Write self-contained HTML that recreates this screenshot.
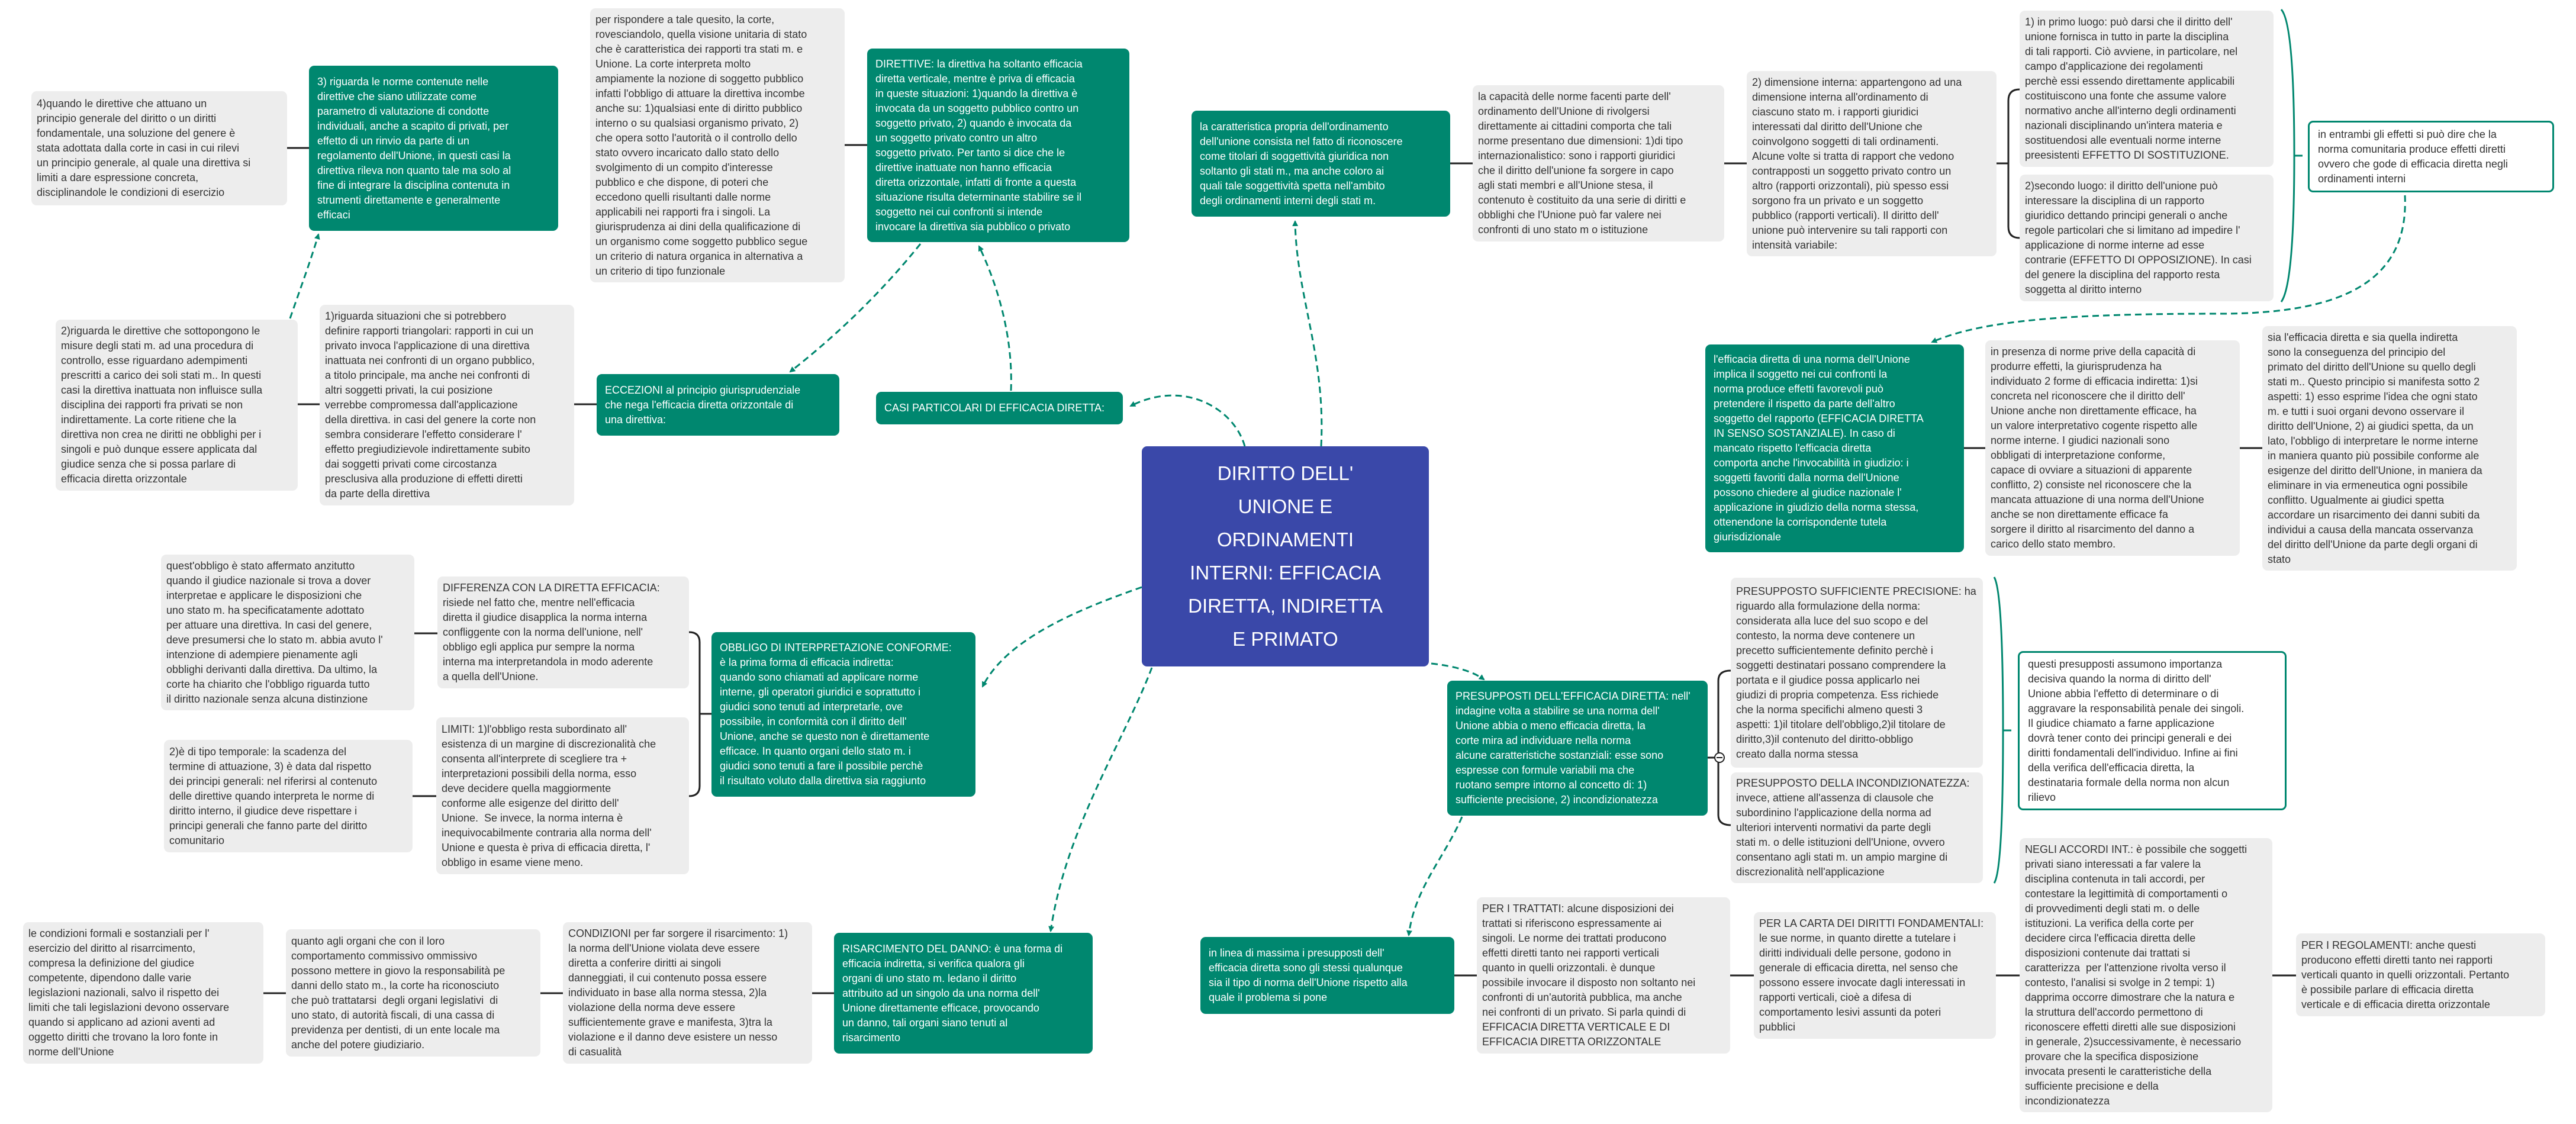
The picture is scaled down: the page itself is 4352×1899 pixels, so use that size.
<!DOCTYPE html>
<html><head><meta charset="utf-8">
<style>
html,body{margin:0;padding:0;background:#fff;}
body{width:4352px;height:1899px;position:relative;overflow:hidden;font-family:"Liberation Sans",sans-serif;}
.b{position:absolute;display:flex;align-items:center;box-sizing:border-box;border-radius:9px;font-size:18px;line-height:25px;white-space:nowrap;}
.g{background:#ededed;color:#333;padding:0 9px;}
.t{background:#00876f;color:#fff;padding:0 14px;}
.o{background:#fff;color:#333;border:3px solid #00876f;padding:0 14px;}
.c{background:#3a48a9;color:#fff;justify-content:center;text-align:center;font-size:33px;line-height:56px;}
svg{position:absolute;left:0;top:0;}
</style></head><body>
<svg width="4352" height="1899">
<defs><marker id="ar" markerWidth="10" markerHeight="10" refX="8" refY="5" orient="auto" markerUnits="userSpaceOnUse"><path d="M0,0 L10,5 L0,10 z" fill="#00876f"/></marker></defs>
<g stroke="#00876f" stroke-width="3" fill="none" stroke-dasharray="11,7" marker-end="url(#ar)">
<path d="M490,538 C510,480 525,440 538,396"/>
<path d="M1555,412 Q1460,530 1335,628"/>
<path d="M1708,660 C1712,560 1680,470 1654,416"/>
<path d="M2103,754 C2085,690 2000,640 1910,686"/>
<path d="M2232,754 C2240,600 2190,500 2188,374"/>
<path d="M4063,330 C4070,480 3950,530 3750,530 C3500,530 3350,540 3264,578"/>
<path d="M2418,1121 Q2480,1128 2507,1148"/>
<path d="M1929,992 C1820,1030 1700,1080 1660,1160"/>
<path d="M1946,1128 C1900,1250 1800,1400 1775,1573"/>
<path d="M2470,1380 C2440,1450 2390,1500 2380,1580"/>
</g>
<g stroke="#222" stroke-width="3" fill="none">
<path d="M484,250H522M1427,245H1465M2450,276H2488M2913,276H2951M3373,276H3393"/>
<path d="M3412,151 Q3393,151 3393,170 L3393,383 Q3393,402 3412,402"/>
<path d="M503,683H540M970,683H1008M700,1070H739M1182,1206H1202M697,1345H737"/>
<path d="M1164,1068 Q1182,1068 1182,1085 L1182,1328 Q1182,1345 1164,1345"/>
<path d="M445,1678H483M913,1678H951M1372,1678H1409"/>
<path d="M3318,757H3354M3784,757H3822"/>
<path d="M2457,1648H2495M2923,1648H2963M3372,1648H3412M3839,1648H3879"/>
<path d="M2885,1280H2903M2924,1133 Q2903,1133 2903,1150 L2903,1377 Q2903,1394 2924,1394"/>
</g>
<circle cx="2905" cy="1280" r="8" fill="#fff" stroke="#222" stroke-width="2"/>
<path d="M2900,1280H2910" stroke="#222" stroke-width="2"/>
<g stroke="#00876f" stroke-width="3" fill="none">
<path d="M3854,16 Q3876,40 3876,263 Q3876,480 3854,510M3876,263H3890"/>
<path d="M3369,975 Q3384,1000 3384,1234 Q3384,1470 3369,1492M3384,1234H3398"/>
</g>
</svg>

<div class="b g" style="left:53px;top:154px;width:432px;height:193px"><div>4)quando le direttive che attuano un<br>principio generale del diritto o un diritti<br>fondamentale, una soluzione del genere è<br>stata adottata dalla corte in casi in cui rilevi<br>un principio generale, al quale una direttiva si<br>limiti a dare espressione concreta,<br>disciplinandole le condizioni di esercizio</div></div>

<div class="b t" style="left:522px;top:111px;width:421px;height:279px"><div>3) riguarda le norme contenute nelle<br>direttive che siano utilizzate come<br>parametro di valutazione di condotte<br>individuali, anche a scapito di privati, per<br>effetto di un rinvio da parte di un<br>regolamento dell'Unione, in questi casi la<br>direttiva rileva non quanto tale ma solo al<br>fine di integrare la disciplina contenuta in<br>strumenti direttamente e generalmente<br>efficaci</div></div>

<div class="b g" style="left:997px;top:14px;width:430px;height:463px"><div>per rispondere a tale quesito, la corte,<br>rovesciandolo, quella visione unitaria di stato<br>che è caratteristica dei rapporti tra stati m. e<br>Unione. La corte interpreta molto<br>ampiamente la nozione di soggetto pubblico<br>infatti l'obbligo di attuare la direttiva incombe<br>anche su: 1)qualsiasi ente di diritto pubblico<br>interno o su qualsiasi organismo privato, 2)<br>che opera sotto l'autorità o il controllo dello<br>stato ovvero incaricato dallo stato dello<br>svolgimento di un compito d'interesse<br>pubblico e che dispone, di poteri che<br>eccedono quelli risultanti dalle norme<br>applicabili nei rapporti fra i singoli. La<br>giurisprudenza ai dini della qualificazione di<br>un organismo come soggetto pubblico segue<br>un criterio di natura organica in alternativa a<br>un criterio di tipo funzionale</div></div>

<div class="b t" style="left:1465px;top:82px;width:443px;height:327px"><div>DIRETTIVE: la direttiva ha soltanto efficacia<br>diretta verticale, mentre è priva di efficacia<br>in queste situazioni: 1)quando la direttiva è<br>invocata da un soggetto pubblico contro un<br>soggetto privato, 2) quando è invocata da<br>un soggetto privato contro un altro<br>soggetto privato. Per tanto si dice che le<br>direttive inattuate non hanno efficacia<br>diretta orizzontale, infatti di fronte a questa<br>situazione risulta determinante stabilire se il<br>soggetto nei cui confronti si intende<br>invocare la direttiva sia pubblico o privato</div></div>

<div class="b t" style="left:2013px;top:187px;width:437px;height:179px"><div>la caratteristica propria dell'ordinamento<br>dell'unione consista nel fatto di riconoscere<br>come titolari di soggettività giuridica non<br>soltanto gli stati m., ma anche coloro ai<br>quali tale soggettività spetta nell'ambito<br>degli ordinamenti interni degli stati m.</div></div>

<div class="b g" style="left:2488px;top:144px;width:425px;height:264px"><div>la capacità delle norme facenti parte dell'<br>ordinamento dell'Unione di rivolgersi<br>direttamente ai cittadini comporta che tali<br>norme presentano due dimensioni: 1)di tipo<br>internazionalistico: sono i rapporti giuridici<br>che il diritto dell'unione fa sorgere in capo<br>agli stati membri e all'Unione stesa, il<br>contenuto è costituito da una serie di diritti e<br>obblighi che l'Unione può far valere nei<br>confronti di uno stato m o istituzione</div></div>

<div class="b g" style="left:2951px;top:120px;width:422px;height:313px"><div>2) dimensione interna: appartengono ad una<br>dimensione interna all'ordinamento di<br>ciascuno stato m. i rapporti giuridici<br>interessati dal diritto dell'Unione che<br>coinvolgono soggetti di tali ordinamenti.<br>Alcune volte si tratta di rapport che vedono<br>contrapposti un soggetto privato contro un<br>altro (rapporti orizzontali), più spesso essi<br>sorgono fra un privato e un soggetto<br>pubblico (rapporti verticali). Il diritto dell'<br>unione può intervenire su tali rapporti con<br>intensità variabile:</div></div>

<div class="b g" style="left:3412px;top:18px;width:429px;height:264px"><div>1) in primo luogo: può darsi che il diritto dell'<br>unione fornisca in tutto in parte la disciplina<br>di tali rapporti. Ciò avviene, in particolare, nel<br>campo d'applicazione dei regolamenti<br>perchè essi essendo direttamente applicabili<br>costituiscono una fonte che assume valore<br>normativo anche all'interno degli ordinamenti<br>nazionali disciplinando un'intera materia e<br>sostituendosi alle eventuali norme interne<br>preesistenti EFFETTO DI SOSTITUZIONE.</div></div>

<div class="b g" style="left:3412px;top:295px;width:429px;height:214px"><div>2)secondo luogo: il diritto dell'unione può<br>interessare la disciplina di un rapporto<br>giuridico dettando principi generali o anche<br>regole particolari che si limitano ad impedire l'<br>applicazione di norme interne ad esse<br>contrarie (EFFETTO DI OPPOSIZIONE). In casi<br>del genere la disciplina del rapporto resta<br>soggetta al diritto interno</div></div>

<div class="b o" style="left:3899px;top:204px;width:416px;height:121px"><div>in entrambi gli effetti si può dire che la<br>norma comunitaria produce effetti diretti<br>ovvero che gode di efficacia diretta negli<br>ordinamenti interni</div></div>

<div class="b g" style="left:94px;top:540px;width:409px;height:289px"><div>2)riguarda le direttive che sottopongono le<br>misure degli stati m. ad una procedura di<br>controllo, esse riguardano adempimenti<br>prescritti a carico dei soli stati m.. In questi<br>casi la direttiva inattuata non influisce sulla<br>disciplina dei rapporti fra privati se non<br>indirettamente. La corte ritiene che la<br>direttiva non crea ne diritti ne obblighi per i<br>singoli e può dunque essere applicata dal<br>giudice senza che si possa parlare di<br>efficacia diretta orizzontale</div></div>

<div class="b g" style="left:540px;top:515px;width:430px;height:339px"><div>1)riguarda situazioni che si potrebbero<br>definire rapporti triangolari: rapporti in cui un<br>privato invoca l'applicazione di una direttiva<br>inattuata nei confronti di un organo pubblico,<br>a titolo principale, ma anche nei confronti di<br>altri soggetti privati, la cui posizione<br>verrebbe compromessa dall'applicazione<br>della direttiva. in casi del genere la corte non<br>sembra considerare l'effetto considerare l'<br>effetto pregiudizievole indirettamente subito<br>dai soggetti privati come circostanza<br>presclusiva alla produzione di effetti diretti<br>da parte della direttiva</div></div>

<div class="b t" style="left:1008px;top:632px;width:410px;height:104px"><div>ECCEZIONI al principio giurisprudenziale<br>che nega l'efficacia diretta orizzontale di<br>una direttiva:</div></div>

<div class="b t" style="left:1480px;top:662px;width:417px;height:55px"><div>CASI PARTICOLARI DI EFFICACIA DIRETTA:</div></div>

<div class="b c" style="left:1929px;top:754px;width:485px;height:372px"><div>DIRITTO DELL'<br>UNIONE E<br>ORDINAMENTI<br>INTERNI: EFFICACIA<br>DIRETTA, INDIRETTA<br>E PRIMATO</div></div>

<div class="b t" style="left:2881px;top:582px;width:437px;height:351px"><div>l'efficacia diretta di una norma dell'Unione<br>implica il soggetto nei cui confronti la<br>norma produce effetti favorevoli può<br>pretendere il rispetto da parte dell'altro<br>soggetto del rapporto (EFFICACIA DIRETTA<br>IN SENSO SOSTANZIALE). In caso di<br>mancato rispetto l'efficacia diretta<br>comporta anche l'invocabilità in giudizio: i<br>soggetti favoriti dalla norma dell'Unione<br>possono chiedere al giudice nazionale l'<br>applicazione in giudizio della norma stessa,<br>ottenendone la corrispondente tutela<br>giurisdizionale</div></div>

<div class="b g" style="left:3354px;top:575px;width:430px;height:364px"><div>in presenza di norme prive della capacità di<br>produrre effetti, la giurisprudenza ha<br>individuato 2 forme di efficacia indiretta: 1)si<br>concreta nel riconoscere che il diritto dell'<br>Unione anche non direttamente efficace, ha<br>un valore interpretativo cogente rispetto alle<br>norme interne. I giudici nazionali sono<br>obbligati di interpretazione conforme,<br>capace di ovviare a situazioni di apparente<br>conflitto, 2) consiste nel riconoscere che la<br>mancata attuazione di una norma dell'Unione<br>anche se non direttamente efficace fa<br>sorgere il diritto al risarcimento del danno a<br>carico dello stato membro.</div></div>

<div class="b g" style="left:3822px;top:551px;width:430px;height:413px"><div>sia l'efficacia diretta e sia quella indiretta<br>sono la conseguenza del principio del<br>primato del diritto dell'Unione su quello degli<br>stati m.. Questo principio si manifesta sotto 2<br>aspetti: 1) esso esprime l'idea che ogni stato<br>m. e tutti i suoi organi devono osservare il<br>diritto dell'Unione, 2) ai giudici spetta, da un<br>lato, l'obbligo di interpretare le norme interne<br>in maniera quanto più possibile conforme ale<br>esigenze del diritto dell'Unione, in maniera da<br>eliminare in via ermeneutica ogni possibile<br>conflitto. Ugualmente ai giudici spetta<br>accordare un risarcimento dei danni subiti da<br>individui a causa della mancata osservanza<br>del diritto dell'Unione da parte degli organi di<br>stato</div></div>

<div class="b t" style="left:2445px;top:1150px;width:440px;height:228px"><div>PRESUPPOSTI DELL'EFFICACIA DIRETTA: nell'<br>indagine volta a stabilire se una norma dell'<br>Unione abbia o meno efficacia diretta, la<br>corte mira ad individuare nella norma<br>alcune caratteristiche sostanziali: esse sono<br>espresse con formule variabili ma che<br>ruotano sempre intorno al concetto di: 1)<br>sufficiente precisione, 2) incondizionatezza</div></div>

<div class="b g" style="left:2924px;top:976px;width:426px;height:321px"><div>PRESUPPOSTO SUFFICIENTE PRECISIONE: ha<br>riguardo alla formulazione della norma:<br>considerata alla luce del suo scopo e del<br>contesto, la norma deve contenere un<br>precetto sufficientemente definito perchè i<br>soggetti destinatari possano comprendere la<br>portata e il giudice possa applicarlo nei<br>giudizi di propria competenza. Ess richiede<br>che la norma specifichi almeno questi 3<br>aspetti: 1)il titolare dell'obbligo,2)il titolare de<br>diritto,3)il contenuto del diritto-obbligo<br>creato dalla norma stessa</div></div>

<div class="b g" style="left:2924px;top:1305px;width:426px;height:187px"><div>PRESUPPOSTO DELLA INCONDIZIONATEZZA:<br>invece, attiene all'assenza di clausole che<br>subordinino l'applicazione della norma ad<br>ulteriori interventi normativi da parte degli<br>stati m. o delle istituzioni dell'Unione, ovvero<br>consentano agli stati m. un ampio margine di<br>discrezionalità nell'applicazione</div></div>

<div class="b o" style="left:3409px;top:1100px;width:454px;height:269px"><div>questi presupposti assumono importanza<br>decisiva quando la norma di diritto dell'<br>Unione abbia l'effetto di determinare o di<br>aggravare la responsabilità penale dei singoli.<br>Il giudice chiamato a farne applicazione<br>dovrà tener conto dei principi generali e dei<br>diritti fondamentali dell'individuo. Infine ai fini<br>della verifica dell'efficacia diretta, la<br>destinataria formale della norma non alcun<br>rilievo</div></div>

<div class="b g" style="left:272px;top:937px;width:428px;height:263px"><div>quest'obbligo è stato affermato anzitutto<br>quando il giudice nazionale si trova a dover<br>interpretae e applicare le disposizioni che<br>uno stato m. ha specificatamente adottato<br>per attuare una direttiva. In casi del genere,<br>deve presumersi che lo stato m. abbia avuto l'<br>intenzione di adempiere pienamente agli<br>obblighi derivanti dalla direttiva. Da ultimo, la<br>corte ha chiarito che l'obbligo riguarda tutto<br>il diritto nazionale senza alcuna distinzione</div></div>

<div class="b g" style="left:739px;top:974px;width:425px;height:189px"><div>DIFFERENZA CON LA DIRETTA EFFICACIA:<br>risiede nel fatto che, mentre nell'efficacia<br>diretta il giudice disapplica la norma interna<br>confliggente con la norma dell'unione, nell'<br>obbligo egli applica pur sempre la norma<br>interna ma interpretandola in modo aderente<br>a quella dell'Unione.</div></div>

<div class="b t" style="left:1202px;top:1068px;width:446px;height:278px"><div>OBBLIGO DI INTERPRETAZIONE CONFORME:<br>è la prima forma di efficacia indiretta:<br>quando sono chiamati ad applicare norme<br>interne, gli operatori giuridici e soprattutto i<br>giudici sono tenuti ad interpretarle, ove<br>possibile, in conformità con il diritto dell'<br>Unione, anche se questo non è direttamente<br>efficace. In quanto organi dello stato m. i<br>giudici sono tenuti a fare il possibile perchè<br>il risultato voluto dalla direttiva sia raggiunto</div></div>

<div class="b g" style="left:737px;top:1212px;width:427px;height:265px"><div>LIMITI: 1)l'obbligo resta subordinato all'<br>esistenza di un margine di discrezionalità che<br>consenta all'interprete di scegliere tra +<br>interpretazioni possibili della norma, esso<br>deve decidere quella maggiormente<br>conforme alle esigenze del diritto dell'<br>Unione.&nbsp; Se invece, la norma interna è<br>inequivocabilmente contraria alla norma dell'<br>Unione e questa è priva di efficacia diretta, l'<br>obbligo in esame viene meno.</div></div>

<div class="b g" style="left:277px;top:1250px;width:420px;height:190px"><div>2)è di tipo temporale: la scadenza del<br>termine di attuazione, 3) è data dal rispetto<br>dei principi generali: nel riferirsi al contenuto<br>delle direttive quando interpreta le norme di<br>diritto interno, il giudice deve rispettare i<br>principi generali che fanno parte del diritto<br>comunitario</div></div>

<div class="b g" style="left:39px;top:1558px;width:406px;height:239px"><div>le condizioni formali e sostanziali per l'<br>esercizio del diritto al risarrcimento,<br>compresa la definizione del giudice<br>competente, dipendono dalle varie<br>legislazioni nazionali, salvo il rispetto dei<br>limiti che tali legislazioni devono osservare<br>quando si applicano ad azioni aventi ad<br>oggetto diritti che trovano la loro fonte in<br>norme dell'Unione</div></div>

<div class="b g" style="left:483px;top:1570px;width:430px;height:215px"><div>quanto agli organi che con il loro<br>comportamento commissivo ommissivo<br>possono mettere in giovo la responsabilità pe<br>danni dello stato m., la corte ha riconosciuto<br>che può trattatarsi&nbsp; degli organi legislativi&nbsp; di<br>uno stato, di autorità fiscali, di una cassa di<br>previdenza per dentisti, di un ente locale ma<br>anche del potere giudiziario.</div></div>

<div class="b g" style="left:951px;top:1558px;width:421px;height:239px"><div>CONDIZIONI per far sorgere il risarcimento: 1)<br>la norma dell'Unione violata deve essere<br>diretta a conferire diritti ai singoli<br>danneggiati, il cui contenuto possa essere<br>individuato in base alla norma stessa, 2)la<br>violazione della norma deve essere<br>sufficientemente grave e manifesta, 3)tra la<br>violazione e il danno deve esistere un nesso<br>di casualità</div></div>

<div class="b t" style="left:1409px;top:1576px;width:437px;height:204px"><div>RISARCIMENTO DEL DANNO: è una forma di<br>efficacia indiretta, si verifica qualora gli<br>organi di uno stato m. ledano il diritto<br>attribuito ad un singolo da una norma dell'<br>Unione direttamente efficace, provocando<br>un danno, tali organi siano tenuti al<br>risarcimento</div></div>

<div class="b t" style="left:2028px;top:1583px;width:429px;height:130px"><div>in linea di massima i presupposti dell'<br>efficacia diretta sono gli stessi qualunque<br>sia il tipo di norma dell'Unione rispetto alla<br>quale il problema si pone</div></div>

<div class="b g" style="left:2495px;top:1516px;width:428px;height:264px"><div>PER I TRATTATI: alcune disposizioni dei<br>trattati si riferiscono espressamente ai<br>singoli. Le norme dei trattati producono<br>effetti diretti tanto nei rapporti verticali<br>quanto in quelli orizzontali. è dunque<br>possibile invocare il disposto non soltanto nei<br>confronti di un'autorità pubblica, ma anche<br>nei confronti di un privato. Si parla quindi di<br>EFFICACIA DIRETTA VERTICALE E DI<br>EFFICACIA DIRETTA ORIZZONTALE</div></div>

<div class="b g" style="left:2963px;top:1541px;width:409px;height:214px"><div>PER LA CARTA DEI DIRITTI FONDAMENTALI:<br>le sue norme, in quanto dirette a tutelare i<br>diritti individuali delle persone, godono in<br>generale di efficacia diretta, nel senso che<br>possono essere invocate dagli interessati in<br>rapporti verticali, cioè a difesa di<br>comportamento lesivi assunti da poteri<br>pubblici</div></div>

<div class="b g" style="left:3412px;top:1416px;width:427px;height:463px"><div>NEGLI ACCORDI INT.: è possibile che soggetti<br>privati siano interessati a far valere la<br>disciplina contenuta in tali accordi, per<br>contestare la legittimità di comportamenti o<br>di provvedimenti degli stati m. o delle<br>istituzioni. La verifica della corte per<br>decidere circa l'efficacia diretta delle<br>disposizioni contenute dai trattati si<br>caratterizza&nbsp; per l'attenzione rivolta verso il<br>contesto, l'analisi si svolge in 2 tempi: 1)<br>dapprima occorre dimostrare che la natura e<br>la struttura dell'accordo permettono di<br>riconoscere effetti diretti alle sue disposizioni<br>in generale, 2)successivamente, è necessario<br>provare che la specifica disposizione<br>invocata presenti le caratteristiche della<br>sufficiente precisione e della<br>incondizionatezza</div></div>

<div class="b g" style="left:3879px;top:1577px;width:421px;height:140px"><div>PER I REGOLAMENTI: anche questi<br>producono effetti diretti tanto nei rapporti<br>verticali quanto in quelli orizzontali. Pertanto<br>è possibile parlare di efficacia diretta<br>verticale e di efficacia diretta orizzontale</div></div>

</body></html>
